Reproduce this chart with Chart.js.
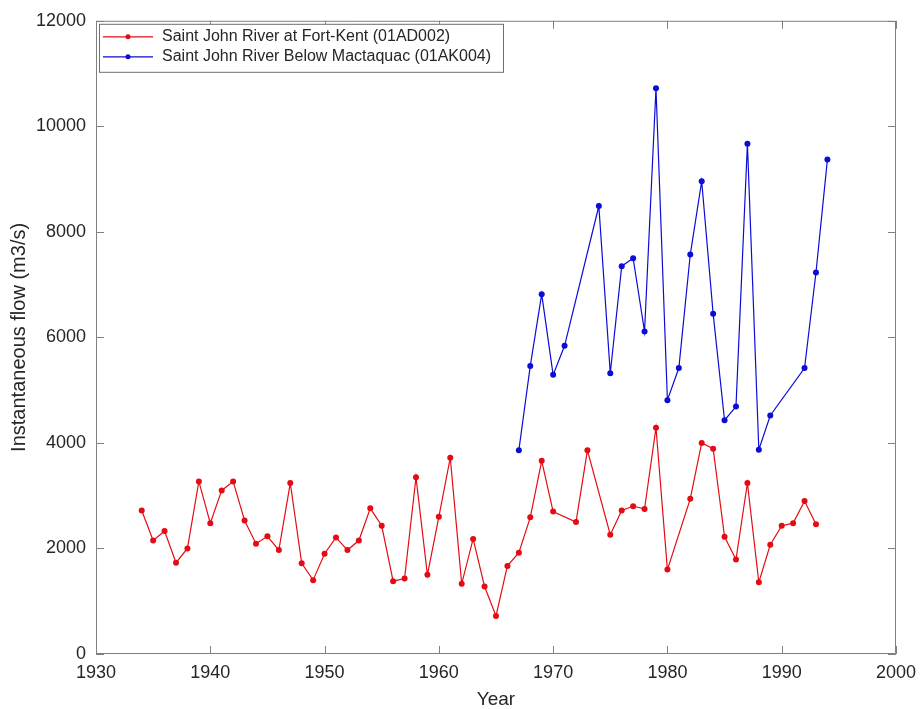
<!DOCTYPE html>
<html>
<head>
<meta charset="utf-8">
<title>Saint John River – Instantaneous flow</title>
<script src="https://cdn.jsdelivr.net/npm/chart.js@4/dist/chart.umd.min.js"></script>
<style>
  html, body { margin: 0; padding: 0; background: #ffffff; }
  #wrap { width: 924px; height: 709px; }
</style>
</head>
<body>
<div id="wrap"><canvas id="flow" width="924" height="709"></canvas></div>
<script>
// Annual peak instantaneous flow (m3/s)
const fortKentYears = [
  1934, 1935, 1936, 1937, 1938, 1939, 1940, 1941, 1942, 1943,
  1944, 1945, 1946, 1947, 1948, 1949, 1950, 1951, 1952, 1953,
  1954, 1955, 1956, 1957, 1958, 1959, 1960, 1961, 1962, 1963,
  1964, 1965, 1966, 1967, 1968, 1969, 1970, 1972, 1973, 1975,
  1976, 1977, 1978, 1979, 1980, 1982, 1983, 1984, 1985, 1986,
  1987, 1988, 1989, 1990, 1991, 1992, 1993
];
const fortKentFlow = [
  2720, 2150, 2330, 1730, 2000, 3270, 2480, 3100, 3270, 2530,
  2090, 2230, 1970, 3240, 1720, 1400, 1900, 2210, 1970, 2150,
  2760, 2430, 1380, 1430, 3350, 1500, 2600, 3720, 1330, 2180,
  1280, 720, 1670, 1920, 2590, 3660, 2700, 2500, 3860, 2260,
  2720, 2800, 2750, 4290, 1600, 2940, 4000, 3890, 2220, 1790,
  3240, 1360, 2070, 2430, 2480, 2900, 2460
];

const mactaquacYears = [
  1967, 1968, 1969, 1970, 1971, 1974, 1975, 1976, 1977, 1978,
  1979, 1980, 1981, 1982, 1983, 1984, 1985, 1986, 1987, 1988,
  1989, 1992, 1993, 1994
];
const mactaquacFlow = [
  3860, 5460, 6820, 5290, 5840, 8490, 5320, 7350, 7500, 6110,
  10720, 4810, 5420, 7570, 8960, 6450, 4430, 4690, 9670, 3870,
  4520, 5420, 7230, 9370
];

const seriesNames = [
  'Saint John River at Fort-Kent (01AD002)',
  'Saint John River Below Mactaquac (01AK004)'
];
const seriesColors = ['rgb(228, 12, 20)', 'rgb(12, 12, 215)'];

const xTicks = [1930, 1940, 1950, 1960, 1970, 1980, 1990, 2000];
const yTicks = [0, 2000, 4000, 6000, 8000, 10000, 12000];

const FONT = "'Liberation Sans', Arial, Helvetica, sans-serif";
const AXIS_GRAY = '#7f7f7f';
const TEXT_DARK = '#262626';
const TICK_LEN = 8;

function toPoints(xs, ys) {
  return xs.map((x, i) => ({ x: x, y: ys[i] }));
}

// Box around the axes with inward tick marks on all four sides
const boxTicks = {
  id: 'boxTicks',
  afterDatasetsDraw(chart) {
    const { ctx, chartArea: a, scales: { x, y } } = chart;
    ctx.save();
    ctx.strokeStyle = AXIS_GRAY;
    ctx.lineWidth = 1;
    ctx.beginPath();
    ctx.rect(a.left + 0.5, a.top + 0.5, a.right - a.left - 1, a.bottom - a.top - 1);
    xTicks.forEach(v => {
      const px = Math.round(x.getPixelForValue(v)) + 0.5;
      ctx.moveTo(px, a.bottom);
      ctx.lineTo(px, a.bottom - TICK_LEN);
      ctx.moveTo(px, a.top);
      ctx.lineTo(px, a.top + TICK_LEN);
    });
    yTicks.forEach(v => {
      const py = Math.round(y.getPixelForValue(v)) + 0.5;
      ctx.moveTo(a.left, py);
      ctx.lineTo(a.left + TICK_LEN, py);
      ctx.moveTo(a.right, py);
      ctx.lineTo(a.right - TICK_LEN, py);
    });
    ctx.stroke();
    ctx.restore();
  }
};

// Legend box in the upper-left corner of the plot
const cornerLegend = {
  id: 'cornerLegend',
  afterDraw(chart) {
    const { ctx, chartArea: a } = chart;
    const bx = a.left + 3, by = a.top + 3, bw = 404, bh = 48;
    ctx.save();
    ctx.fillStyle = '#ffffff';
    ctx.fillRect(bx, by, bw, bh);
    ctx.strokeStyle = '#6f6f6f';
    ctx.lineWidth = 1;
    ctx.strokeRect(bx + 0.5, by + 0.5, bw, bh);
    ctx.font = '16px ' + FONT;
    ctx.textBaseline = 'middle';
    ctx.textAlign = 'left';
    chart.data.datasets.forEach((ds, i) => {
      const ry = by + 13 + i * 20;
      ctx.strokeStyle = ds.borderColor;
      ctx.lineWidth = 1.2;
      ctx.beginPath();
      ctx.moveTo(bx + 4, ry);
      ctx.lineTo(bx + 54, ry);
      ctx.stroke();
      ctx.fillStyle = ds.borderColor;
      ctx.beginPath();
      ctx.arc(bx + 29, ry, 2.5, 0, Math.PI * 2);
      ctx.fill();
      ctx.fillStyle = TEXT_DARK;
      ctx.fillText(ds.label, bx + 63, ry);
    });
    ctx.restore();
  }
};

new Chart(document.getElementById('flow'), {
  type: 'line',
  data: {
    datasets: [
      {
        label: seriesNames[0],
        data: toPoints(fortKentYears, fortKentFlow),
        borderColor: seriesColors[0],
        backgroundColor: seriesColors[0],
        borderWidth: 1.2,
        pointRadius: 3,
        pointBorderWidth: 0,
        pointHoverRadius: 3,
        tension: 0,
        fill: false
      },
      {
        label: seriesNames[1],
        data: toPoints(mactaquacYears, mactaquacFlow),
        borderColor: seriesColors[1],
        backgroundColor: seriesColors[1],
        borderWidth: 1.2,
        pointRadius: 3,
        pointBorderWidth: 0,
        pointHoverRadius: 3,
        tension: 0,
        fill: false
      }
    ]
  },
  options: {
    responsive: false,
    animation: false,
    layout: { padding: { top: 18, right: 23, bottom: 0, left: 0 } },
    plugins: {
      legend: { display: false },
      tooltip: { enabled: false }
    },
    scales: {
      x: {
        type: 'linear',
        min: 1930,
        max: 2000,
        afterBuildTicks(scale) { scale.ticks = xTicks.map(v => ({ value: v })); },
        afterFit(scale) { scale.height = 55; },
        grid: { display: false, drawTicks: false },
        border: { display: false },
        ticks: {
          padding: 8,
          color: TEXT_DARK,
          font: { family: FONT, size: 18 },
          maxRotation: 0,
          callback: v => String(v)
        },
        title: {
          display: true,
          text: 'Year',
          color: TEXT_DARK,
          font: { family: FONT, size: 19, lineHeight: 1 },
          padding: { top: 0, bottom: 0 }
        }
      },
      y: {
        type: 'linear',
        min: 0,
        max: 12000,
        afterBuildTicks(scale) { scale.ticks = yTicks.map(v => ({ value: v })); },
        afterFit(scale) { scale.width = 96; },
        grid: { display: false, drawTicks: false },
        border: { display: false },
        ticks: {
          padding: 10,
          color: TEXT_DARK,
          font: { family: FONT, size: 18 },
          callback: v => String(v)
        },
        title: {
          display: true,
          text: 'Instantaneous flow (m3/s)',
          color: TEXT_DARK,
          font: { family: FONT, size: 20, lineHeight: 1 },
          padding: { top: 9, bottom: 0 }
        }
      }
    }
  },
  plugins: [boxTicks, cornerLegend]
});
</script>
</body>
</html>
